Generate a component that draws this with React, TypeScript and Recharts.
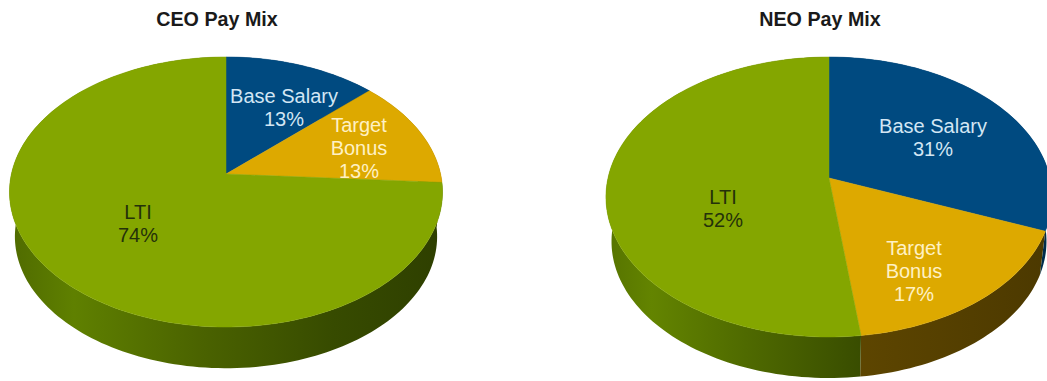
import React from 'react';
import { PieChart, Pie, Cell } from 'recharts';

// Pay components and their shares of total pay, in percent.
const categories = ['Base Salary', 'Target Bonus', 'LTI'];
const ceoShares = [13, 13, 74];
const neoShares = [31, 17, 52];
const labelLines = [['Base Salary'], ['Target', 'Bonus'], ['LTI']];

const topColors = ['#004a80', '#dda900', '#84a600'];
const textColors = ['#d3e6f4', '#fff1c4', '#24320a'];

const ceoData = categories.map((name, i) => ({ name, value: ceoShares[i] }));
const neoData = categories.map((name, i) => ({ name, value: neoShares[i] }));

const FONT = '"Liberation Sans", Arial, sans-serif';
const LINE_HEIGHT = 23;

type Tilt = { k: number; squash: number; depth: number; shrink: number };
const ceoTilt: Tilt = { k: 0.1333, squash: 0.618, depth: 45, shrink: 0.975 };
const neoTilt: Tilt = { k: 0.1357, squash: 0.6217, depth: 45, shrink: 0.975 };

// Projects a point on the flat disc to the screen with a perspective divide,
// so the far half of the disc comes out shorter than the near half.
function project(cx: number, cy: number, r: number, deg: number, t: Tilt): [number, number] {
  const a = (deg * Math.PI) / 180;
  const w = 1 + t.k * Math.sin(a);
  return [cx + (r * Math.cos(a)) / w, cy - (r * t.squash * Math.sin(a)) / w];
}

function arcPoints(p: any, t: Tilt): [number, number][] {
  const { cx, cy, outerRadius, startAngle, endAngle } = p;
  const steps = Math.max(2, Math.ceil(Math.abs(endAngle - startAngle) / 1.5));
  const pts: [number, number][] = [];
  for (let i = 0; i <= steps; i++) {
    pts.push(project(cx, cy, outerRadius, startAngle + ((endAngle - startAngle) * i) / steps, t));
  }
  return pts;
}

const toPath = (pts: [number, number][]) =>
  pts.map(([x, y], i) => `${i ? 'L' : 'M'}${x.toFixed(2)} ${y.toFixed(2)}`).join('') + 'Z';

const topFace = (t: Tilt) => (p: any) => (
  <path d={toPath([[p.cx, p.cy], ...arcPoints(p, t)])} fill={p.fill} stroke={p.fill} strokeWidth={0.5} />
);

// The rim is the arc of the slice joined to the same arc on the lower disc.
const sideWall = (t: Tilt) => (p: any) => {
  const upper = arcPoints(p, t);
  const lower = upper
    .map(([x, y]): [number, number] => [
      p.cx + (x - p.cx) * t.shrink,
      p.cy + (y - p.cy) * t.shrink + t.depth,
    ])
    .reverse();
  return <path d={toPath([...upper, ...lower])} fill={p.fill} />;
};

// Horizontal offset from the apex and first baseline offset for each slice label.
const ceoLabelOffsets = [
  [58, -71],
  [133, -42],
  [-88, 45],
];
const neoLabelOffsets = [
  [104, -45],
  [85, 77],
  [-106, 26],
];

const sliceLabel = (offsets: number[][]) => (p: any) => {
  const i = p.index;
  const x = p.cx + offsets[i][0];
  const y = p.cy + offsets[i][1];
  const lines = [...labelLines[i], `${p.value}%`];
  return (
    <text x={x} y={y} textAnchor="middle" fontFamily={FONT} fontSize={20} fill={textColors[i]}>
      {lines.map((line, n) => (
        <tspan key={line} x={x} y={y + n * LINE_HEIGHT}>
          {line}
        </tspan>
      ))}
    </text>
  );
};

export default function App() {
  const ceoSides = ['#002f52', '#7b5f00', 'url(#ceoRim)'];
  const neoSides = ['url(#neoBlueRim)', 'url(#neoGoldRim)', 'url(#neoRim)'];
  return (
    <div style={{ position: 'absolute', left: 0, top: 0, width: 1047, height: 381, background: '#fff' }}>
      <PieChart width={1047} height={381} margin={{ top: 0, right: 0, bottom: 0, left: 0 }}>
        <defs>
          <linearGradient id="ceoRim" gradientUnits="userSpaceOnUse" x1={9} y1={0} x2={442} y2={0}>
            <stop offset="0%" stopColor="#4f6a00" />
            <stop offset="15%" stopColor="#5f8000" />
            <stop offset="45%" stopColor="#4a6200" />
            <stop offset="75%" stopColor="#374b00" />
            <stop offset="100%" stopColor="#2e3f00" />
          </linearGradient>
          <linearGradient id="neoRim" gradientUnits="userSpaceOnUse" x1={606} y1={0} x2={860} y2={0}>
            <stop offset="0%" stopColor="#567300" />
            <stop offset="18%" stopColor="#638400" />
            <stop offset="55%" stopColor="#4f6a00" />
            <stop offset="100%" stopColor="#394d00" />
          </linearGradient>
          <linearGradient id="neoGoldRim" gradientUnits="userSpaceOnUse" x1={852} y1={0} x2={1047} y2={0}>
            <stop offset="0%" stopColor="#5e4600" />
            <stop offset="100%" stopColor="#4c3900" />
          </linearGradient>
          <linearGradient id="neoBlueRim" gradientUnits="userSpaceOnUse" x1={1030} y1={0} x2={1047} y2={0}>
            <stop offset="0%" stopColor="#00365c" />
            <stop offset="100%" stopColor="#002a48" />
          </linearGradient>
        </defs>

        <text x={217} y={26} textAnchor="middle" fontFamily={FONT} fontSize={19.7} fontWeight="bold" fill="#1a1a1a">
          CEO Pay Mix
        </text>
        <text x={820} y={26} textAnchor="middle" fontFamily={FONT} fontSize={19.7} fontWeight="bold" fill="#1a1a1a">
          NEO Pay Mix
        </text>

        {/* CEO rim, then its top face */}
        <Pie
          data={ceoData}
          dataKey="value"
          cx={226}
          cy={174}
          outerRadius={214.6}
          startAngle={90}
          endAngle={-270}
          isAnimationActive={false}
          shape={sideWall(ceoTilt)}
        >
          {ceoData.map((d, i) => (
            <Cell key={d.name} fill={ceoSides[i]} />
          ))}
        </Pie>
        <Pie
          data={ceoData}
          dataKey="value"
          cx={226}
          cy={174}
          outerRadius={214.6}
          startAngle={90}
          endAngle={-270}
          isAnimationActive={false}
          shape={topFace(ceoTilt)}
          label={sliceLabel(ceoLabelOffsets)}
          labelLine={false}
        >
          {ceoData.map((d, i) => (
            <Cell key={d.name} fill={topColors[i]} />
          ))}
        </Pie>

        {/* NEO rim, then its top face */}
        <Pie
          data={neoData}
          dataKey="value"
          cx={829}
          cy={178}
          outerRadius={221}
          startAngle={90}
          endAngle={-270}
          isAnimationActive={false}
          shape={sideWall(neoTilt)}
        >
          {neoData.map((d, i) => (
            <Cell key={d.name} fill={neoSides[i]} />
          ))}
        </Pie>
        <Pie
          data={neoData}
          dataKey="value"
          cx={829}
          cy={178}
          outerRadius={221}
          startAngle={90}
          endAngle={-270}
          isAnimationActive={false}
          shape={topFace(neoTilt)}
          label={sliceLabel(neoLabelOffsets)}
          labelLine={false}
        >
          {neoData.map((d, i) => (
            <Cell key={d.name} fill={topColors[i]} />
          ))}
        </Pie>
      </PieChart>
    </div>
  );
}
